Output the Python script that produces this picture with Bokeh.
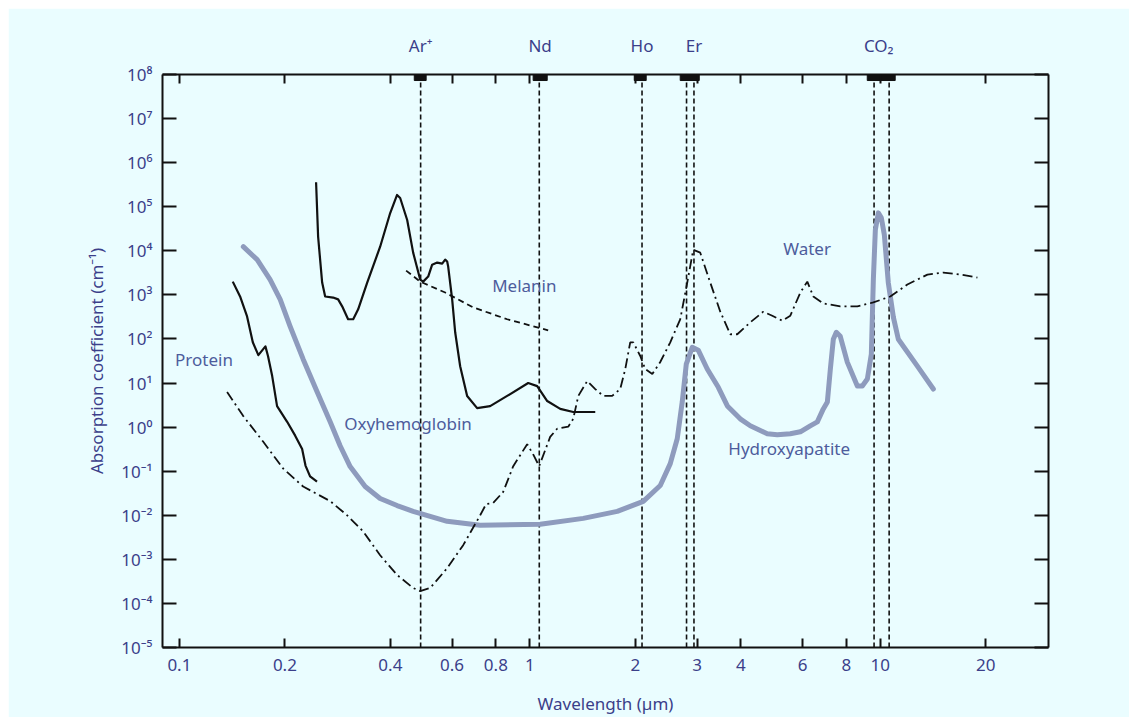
from bokeh.plotting import figure
from bokeh.models import LogAxis, FixedTicker
from bokeh.core.properties import value
from bokeh.embed import file_html
from bokeh.resources import INLINE

FONT = "Noto Sans"
TICK_COLOR = "#3b3f8a"
NOTE_COLOR = "#4d5c9c"
BG = "#EAFDFF"
INK = "#111111"

# ---------------- data (wavelength in µm, absorption coefficient in cm^-1) ----------------
protein_wl = [0.142, 0.149, 0.156, 0.162, 0.168, 0.176, 0.179, 0.184, 0.190, 0.203,
              0.214, 0.224, 0.229, 0.236, 0.247]
protein_abs = [2000, 920, 325, 84, 43, 68, 41, 14.4, 3.0, 1.32,
               0.64, 0.32, 0.134, 0.076, 0.058]

oxy_wl = [0.2455, 0.2488, 0.2555, 0.2606, 0.2746, 0.2838, 0.2914, 0.303, 0.3133, 0.3237,
          0.3435, 0.374, 0.3995, 0.418, 0.4266, 0.4467, 0.4646, 0.4865, 0.4962, 0.5128,
          0.5264, 0.544, 0.5622, 0.5734, 0.5809, 0.5848, 0.6003, 0.6123, 0.6327, 0.6624,
          0.7073, 0.7704, 0.8617, 0.9893, 1.0495, 1.121, 1.2213, 1.3302, 1.537]
oxy_abs = [3.6e5, 2.1e4, 1900, 920, 870, 790, 550, 280, 280, 470,
           1900, 1.24e4, 7.2e4, 1.85e5, 1.58e5, 5.0e4, 9100, 2230, 2000, 2600,
           4850, 5400, 5100, 6300, 5700, 4400, 790, 142, 24, 5.1,
           2.7, 3.0, 5.1, 10.0, 8.5, 3.9, 2.6, 2.2, 2.2]

melanin_wl = [0.4436, 0.4865, 0.5734, 0.689, 0.8617, 1.128]
melanin_abs = [3550, 2000, 1130, 520, 280, 157]

water_wl = [0.1368, 0.152, 0.1733, 0.1977, 0.2255, 0.2692, 0.301, 0.3344, 0.374, 0.4182,
            0.4646, 0.4865, 0.5196, 0.5809, 0.6454, 0.7216, 0.7506, 0.786, 0.8395, 0.8966,
            0.9828, 1.0223, 1.0634, 1.143, 1.197, 1.287, 1.330, 1.375, 1.458, 1.537,
            1.620, 1.718, 1.811, 1.872, 1.934, 1.973, 2.066, 2.135, 2.236, 2.356,
            2.516, 2.686, 2.813, 2.926, 3.064, 3.272, 3.495, 3.733, 3.908, 4.256,
            4.636, 4.918, 5.252, 5.537, 5.914, 6.191, 6.441, 6.878, 7.689, 8.601,
            9.555, 10.68, 11.95, 13.63, 15.14, 16.93, 18.93]
water_abs = [6.3, 1.8, 0.47, 0.115, 0.045, 0.021, 0.0100, 0.0043, 0.00124, 0.00044,
             0.000224, 0.00019, 0.000224, 0.00063, 0.0021, 0.0100, 0.018, 0.019, 0.034, 0.13,
             0.41, 0.24, 0.13, 0.60, 0.92, 1.02, 1.54, 5.1, 11.1, 7.3,
             5.1, 5.1, 7.3, 20.7, 84, 84, 41, 20.7, 16, 30,
             84, 278, 1900, 10600, 9060, 1900, 415, 128, 128, 238,
             415, 337, 260, 337, 1130, 2000, 920, 640, 547, 547,
             674, 920, 1717, 2890, 3200, 2890, 2470]

hap_wl = [0.1522, 0.1667, 0.1815, 0.1939, 0.207, 0.2255, 0.2473, 0.2693, 0.2875, 0.3071,
          0.3389, 0.374, 0.418, 0.4646, 0.5809, 0.7216, 1.0705, 1.4203, 1.776, 2.107, 2.356,
          2.516, 2.634, 2.722, 2.795, 2.907, 3.024, 3.208, 3.45, 3.661, 3.984, 4.256, 4.758,
          5.083, 5.536, 5.914, 6.312, 6.613, 6.877, 7.063, 7.203, 7.345, 7.491, 7.689, 8.051,
          8.601, 8.888, 9.185, 9.429, 9.555, 9.681, 9.872, 10.07, 10.27, 10.54, 10.90, 11.26,
          12.76, 14.17]
hap_abs = [12400, 6300, 2230, 787, 194, 34.8, 6.26, 1.32, 0.378, 0.127,
           0.0449, 0.0241, 0.0166, 0.01225, 0.00729, 0.00592, 0.00623, 0.00851, 0.01225, 0.0206, 0.0473,
           0.1485, 0.544, 3.73, 26.8, 64.9, 55.6, 20.8, 8.0, 3.03, 1.54, 1.07, 0.707,
           0.67, 0.707, 0.783, 1.07, 1.317, 2.59, 3.73, 20.7, 98.4, 141.7, 115, 29.8,
           8.55, 8.55, 12.3, 45.1, 2230, 29950, 72500, 55900, 23100, 1905, 309, 98.4,
           24.2, 7.32]

# lasers: emission lines and bands
laser_lines = [0.488, 1.064, 2.09, 2.80, 2.94, 9.6, 10.6]
laser_band_lo = [0.468, 1.022, 1.986, 2.686, 9.18]
laser_band_hi = [0.506, 1.121, 2.148, 3.044, 11.03]
laser_names = ["Ar\u207a", "Nd", "Ho", "Er", "CO\u2082"]
laser_label_wl = [0.488, 1.07, 2.09, 2.94, 9.9]

# curve labels
note_names = ["Protein", "Oxyhemoglobin", "Melanin", "Water", "Hydroxyapatite"]
note_wl = [0.0972, 0.2952, 0.7807, 5.285, 3.684]
note_abs = [34.8, 1.19, 1630, 11140, 0.331]

# axes ticks
x_ticks = [0.1, 0.2, 0.4, 0.6, 0.8, 1.0, 2.0, 3.0, 4.0, 6.0, 8.0, 10.0, 20.0]
x_tick_labels = ["0.1", "0.2", "0.4", "0.6", "0.8", "1", "2", "3", "4", "6", "8", "10", "20"]
y_ticks = [1e-5, 1e-4, 1e-3, 1e-2, 1e-1, 1.0, 1e1, 1e2, 1e3, 1e4, 1e5, 1e6, 1e7, 1e8]
y_tick_labels = ["10\u207b\u2075", "10\u207b\u2074", "10\u207b\u00b3", "10\u207b\u00b2", "10\u207b\u00b9",
                 "10\u2070", "10\u00b9", "10\u00b2", "10\u00b3", "10\u2074", "10\u2075",
                 "10\u2076", "10\u2077", "10\u2078"]

X_MIN, X_MAX = 0.0895, 30.2
Y_MIN, Y_MAX = 1e-5, 1e8

p = figure(width=1121, height=709, x_axis_type="log", y_axis_type="log",
           x_range=(X_MIN, X_MAX), y_range=(Y_MIN, Y_MAX),
           output_backend="svg", toolbar_location=None,
           background_fill_color=BG, border_fill_color=BG,
           min_border_left=154, min_border_right=81, min_border_top=66, min_border_bottom=67)
p.margin = (8, 0, 0, 8)
p.grid.visible = False
p.outline_line_color = None


def style_axis(ax, tick_len):
    ax.axis_line_color = INK
    ax.axis_line_width = 2
    ax.major_tick_line_color = INK
    ax.major_tick_line_width = 2
    ax.major_tick_in = tick_len
    ax.major_tick_out = 0
    ax.minor_tick_line_color = None
    ax.major_label_text_font = FONT
    ax.major_label_text_font_size = "17px"
    ax.major_label_text_color = TICK_COLOR
    ax.axis_label_text_font = FONT
    ax.axis_label_text_font_size = "17px"
    ax.axis_label_text_font_style = "normal"
    ax.axis_label_text_color = TICK_COLOR


xa = p.xaxis[0]
xa.ticker = FixedTicker(ticks=x_ticks, minor_ticks=[])
xa.major_label_overrides = dict(zip(x_ticks, x_tick_labels))
style_axis(xa, 9)
xa.major_label_standoff = 11
xa.axis_label = "Wavelength (\u00b5m)"
xa.axis_label_standoff = 18

ya = p.yaxis[0]
ya.ticker = FixedTicker(ticks=y_ticks, minor_ticks=[])
ya.major_label_overrides = dict(zip(y_ticks, y_tick_labels))
style_axis(ya, 14)
ya.major_label_standoff = 10
ya.axis_label = "Absorption coefficient (cm\u207b\u00b9)"
ya.axis_label_standoff = 10

top = LogAxis(ticker=FixedTicker(ticks=laser_label_wl, minor_ticks=x_ticks))
style_axis(top, 0)
top.major_tick_line_color = None
top.minor_tick_line_color = INK
top.minor_tick_line_width = 2
top.minor_tick_in = 9
top.minor_tick_out = 0
top.major_label_overrides = dict(zip(laser_label_wl, laser_names))
top.major_label_standoff = 18
p.add_layout(top, "above")

right = LogAxis(ticker=FixedTicker(ticks=y_ticks, minor_ticks=[]))
style_axis(right, 14)
right.major_label_text_color = None
p.add_layout(right, "right")

# laser lines and bands
p.segment(x0=laser_lines, x1=laser_lines, y0=[Y_MIN] * len(laser_lines), y1=[Y_MAX] * len(laser_lines),
          line_color=INK, line_width=1.6, line_dash="5 3")
p.quad(left=laser_band_lo, right=laser_band_hi, top=[Y_MAX] * len(laser_band_lo),
       bottom=[Y_MAX / 1.37] * len(laser_band_lo), fill_color=INK, line_color=INK)

# curves
p.line(hap_wl, hap_abs, line_color="#8e9bbd", line_width=5, line_join="round", line_cap="round")
p.line(water_wl, water_abs, line_color=INK, line_width=1.8, line_dash="10 4 2 4")
p.line(melanin_wl, melanin_abs, line_color=INK, line_width=1.8, line_dash="6 4")
p.line(protein_wl, protein_abs, line_color=INK, line_width=2.2, line_join="round")
p.line(oxy_wl, oxy_abs, line_color=INK, line_width=2.2, line_join="round")

p.text(x=note_wl, y=note_abs, text=note_names, text_font=value(FONT), text_font_size="17px",
       text_color=NOTE_COLOR, text_align="left", text_baseline="middle")

open("out.html", "w").write(file_html(p, INLINE))
